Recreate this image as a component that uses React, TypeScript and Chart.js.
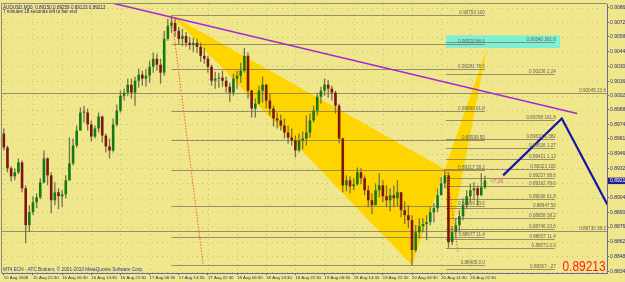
import React, { useEffect, useRef } from 'react';
import { Chart, registerables } from 'chart.js';
Chart.register(...registerables);

const SYMBOL_TITLE = 'AUDUSD,M30  0.89150 0.89259 0.89133 0.89213';
const TIMER_TEXT = '7 minutes 18 seconds left to bar end';
const COPYRIGHT = 'MT4 ECN - ATC Brokers, \u00a9 2001-2010 MetaQuotes Software Corp.';
const TIMER_TAG = '<7:18';

const X_LABELS = ['15 Aug 2008', '15 Aug 22:30', '16 Aug 06:30', '16 Aug 14:30', '16 Aug 22:30', '17 Aug 06:30', '17 Aug 14:30', '17 Aug 22:30', '18 Aug 06:30', '18 Aug 14:30', '18 Aug 22:30', '19 Aug 06:30', '19 Aug 14:30', '19 Aug 22:30', '20 Aug 06:30', '20 Aug 14:30', '20 Aug 22:30'];
const Y_TICKS = [0.90862, 0.90725, 0.90589, 0.90442, 0.90305, 0.90162, 0.90025, 0.89889, 0.89749, 0.89612, 0.89469, 0.89329, 0.89189, 0.89049, 0.88909, 0.88769, 0.88629, 0.88489, 0.88342];
const Y_MIN = 0.8833;
const Y_MAX = 0.909;
const X_MIN = -0.5;
const X_MAX = 165.5;
const LABEL_EVERY = 8;

const FIRST_OPEN = 0.89662;
const CLOSE = [
  0.89529, 0.8933, 0.89254, 0.89292, 0.89387, 0.89139, 0.88787, 0.88911, 0.89006, 0.89053,
  0.89196, 0.89425, 0.89263, 0.89025, 0.89101, 0.89063, 0.89082, 0.89215, 0.89377, 0.89548,
  0.89691, 0.89863, 0.89863, 0.89749, 0.89634, 0.89711, 0.89825, 0.89643, 0.89539, 0.89501,
  0.89749, 0.89882, 0.90024, 0.90053, 0.90129, 0.90053, 0.90167, 0.90225, 0.90187, 0.90215,
  0.90301, 0.90377, 0.9032, 0.90244, 0.90567, 0.90691, 0.9072, 0.90643, 0.90567, 0.90595,
  0.90529, 0.9051, 0.90529, 0.90491, 0.90405, 0.90377, 0.90301, 0.90167, 0.90187, 0.90196,
  0.90167, 0.9011, 0.90053, 0.90187, 0.90215, 0.90263, 0.90405, 0.90072, 0.89901, 0.89948,
  0.90072, 0.90129, 0.89977, 0.89901, 0.89806, 0.89787, 0.89739, 0.89672, 0.89624, 0.89596,
  0.89501, 0.89596, 0.89615, 0.89672, 0.89787, 0.89882, 0.90015, 0.90072, 0.90129, 0.90091,
  0.90053, 0.89929, 0.89615, 0.89167, 0.89215, 0.89158, 0.89177, 0.89292, 0.89235, 0.8912,
  0.89025, 0.88977, 0.8912, 0.89167, 0.89063, 0.89025, 0.89073, 0.89044, 0.89101, 0.8893,
  0.88882, 0.88835, 0.88549, 0.8872, 0.88778, 0.88797, 0.88816, 0.88911, 0.88949, 0.89073,
  0.89186, 0.89263, 0.88625, 0.8872, 0.88787, 0.88873, 0.88977, 0.89063, 0.8912, 0.89139,
  0.89073, 0.8915, 0.89213,
];
const HIGH = [
  0.89711, 0.89548, 0.89349, 0.8933, 0.89425, 0.89406, 0.89167, 0.88977, 0.89063, 0.89091,
  0.89235, 0.89501, 0.89434, 0.89292, 0.89196, 0.89139, 0.8912, 0.89263, 0.89624, 0.89615,
  0.89739, 0.8991, 0.89929, 0.89901, 0.89787, 0.89739, 0.89863, 0.89834, 0.89662, 0.89615,
  0.89806, 0.89939, 0.90072, 0.90091, 0.90187, 0.90187, 0.90206, 0.90282, 0.90263, 0.90282,
  0.90358, 0.90434, 0.90424, 0.90377, 0.90643, 0.90758, 0.90793, 0.90767, 0.90682, 0.90663,
  0.90633, 0.90586, 0.90576, 0.90567, 0.90529, 0.90481, 0.90405, 0.9032, 0.90253, 0.90244,
  0.90263, 0.90206, 0.90148, 0.90234, 0.90263, 0.90339, 0.90481, 0.90434, 0.9008, 0.89996,
  0.90119, 0.90206, 0.90138, 0.90043, 0.89929, 0.89863, 0.89844, 0.89806, 0.89739, 0.89711,
  0.89643, 0.89662, 0.89681, 0.89834, 0.89853, 0.89929, 0.90053, 0.9011, 0.90187, 0.90177,
  0.90119, 0.90072, 0.89948, 0.89624, 0.89263, 0.89254, 0.89235, 0.89339, 0.8933, 0.89263,
  0.89167, 0.89091, 0.89186, 0.89282, 0.89215, 0.89167, 0.89139, 0.89167, 0.89215, 0.89101,
  0.89015, 0.88977, 0.88882, 0.88787, 0.88854, 0.88854, 0.88882, 0.88958, 0.88996, 0.89139,
  0.89244, 0.89323, 0.89292, 0.88778, 0.88854, 0.8893, 0.89044, 0.8912, 0.89186, 0.89196,
  0.89167, 0.89282, 0.89259,
];
const LOW = [
  0.89501, 0.89292, 0.89205, 0.89215, 0.89273, 0.89101, 0.88615, 0.8872, 0.88882, 0.88949,
  0.89034, 0.89186, 0.89167, 0.88901, 0.88977, 0.88939, 0.88958, 0.89044, 0.89215, 0.89358,
  0.89529, 0.89691, 0.89768, 0.89691, 0.89586, 0.89615, 0.89672, 0.89577, 0.89482, 0.89425,
  0.89482, 0.8973, 0.89863, 0.89977, 0.90024, 0.89996, 0.89929, 0.901, 0.90119, 0.9011,
  0.90148, 0.90244, 0.90263, 0.90138, 0.90215, 0.90548, 0.90624, 0.90586, 0.9051, 0.905,
  0.90491, 0.90462, 0.90443, 0.90434, 0.90348, 0.90329, 0.90244, 0.90119, 0.90091, 0.901,
  0.9011, 0.90053, 0.89967, 0.90024, 0.90091, 0.90148, 0.90244, 0.89996, 0.89815, 0.89815,
  0.89939, 0.89958, 0.89901, 0.89834, 0.8973, 0.89711, 0.89691, 0.89615, 0.89567, 0.89548,
  0.89434, 0.89482, 0.8951, 0.89548, 0.89624, 0.89768, 0.89834, 0.89948, 0.90024, 0.90005,
  0.89977, 0.89853, 0.89567, 0.89101, 0.8911, 0.89092, 0.8912, 0.89167, 0.89177, 0.89073,
  0.88958, 0.88892, 0.88977, 0.89053, 0.89006, 0.88958, 0.8892, 0.88958, 0.88968, 0.88863,
  0.88797, 0.88759, 0.88405, 0.8853, 0.88663, 0.8872, 0.88644, 0.88787, 0.88816, 0.88911,
  0.89073, 0.89139, 0.88571, 0.88597, 0.88672, 0.8872, 0.88835, 0.88939, 0.89006, 0.89025,
  0.88977, 0.89063, 0.89133,
];
const LAST_PRICE = 0.89213;

// pattern / drawing objects: [bar slot, price]
const PATTERN_XAB = [[46, 0.90793], [112, 0.88405], [121, 0.89323]];
const PATTERN_BCD = [[121, 0.89323], [122, 0.88571], [132.5, 0.9047]];
const TARGET_ZONE = [121.3, 152.6, 0.906, 0.9048];
const TRENDLINE = [[30.2, 0.90905], [157.3, 0.89853]];
const PROJECTION = [[137, 0.89263], [153.1, 0.89806], [165.6, 0.88985]];
const TIME_LINES = [
  [[46, 0.90793], [54.7, 0.8841]],
  [[121.6, 0.8929], [124.6, 0.8853]],
];

const FIB1_RANGE = [46, 132];
const FIB1_PRICES = [0.90793, 0.9052, 0.90281, 0.8988, 0.89599, 0.89317, 0.88969, 0.88677, 0.88405];
const FIB1_RATIOS = ['100', '88.6', '78.6', '61.8', '50', '38.2', '23.6', '11.4', '0.0'];
const FIB2_RANGE = [121.3, 151.2];
const FIB2_PRICES = [0.9054, 0.90236, 0.89788, 0.8961, 0.89526, 0.89421, 0.89323, 0.89237, 0.89162, 0.89036, 0.88947, 0.88858, 0.88746, 0.88657, 0.88571, 0.88367];
const FIB2_RATIOS = ['261.8', '2.24', '161.8', '1.382', '1.27', '1.13', '100', '88.6', '78.6', '61.8', '50', '38.2', '23.6', '11.4', '0.0', '-.27'];
const FIB3_PRICES = [0.90045, 0.8873];
const FIB3_RATIOS = ['23.6', '38.2'];

const FONT = '"Liberation Sans", Arial, sans-serif';
const BG = '#F0E68C';

const overlayPlugin = {
  id: 'mt4overlay',
  beforeDatasetsDraw(chart: any) {
    const { ctx, chartArea: a, scales } = chart;
    const X = (v: number) => scales.x.getPixelForValue(v);
    const Y = (v: number) => scales.y.getPixelForValue(v);
    ctx.save();
    ctx.beginPath();
    ctx.rect(a.left, a.top, a.right - a.left, a.bottom - a.top);
    ctx.clip();
    // dotted grid
    ctx.strokeStyle = 'rgba(110,165,110,0.45)';
    ctx.lineWidth = 1;
    ctx.setLineDash([1, 4]);
    Y_TICKS.forEach((v) => {
      const py = Math.round(Y(v)) + 0.5;
      ctx.beginPath(); ctx.moveTo(a.left, py); ctx.lineTo(a.right, py); ctx.stroke();
    });
    X_LABELS.forEach((_, i) => {
      const px = Math.round(X(i * LABEL_EVERY)) + 0.5;
      ctx.beginPath(); ctx.moveTo(px, a.top); ctx.lineTo(px, a.bottom); ctx.stroke();
    });
    ctx.setLineDash([]);
    // harmonic pattern triangles
    ctx.fillStyle = '#FFD500';
    [PATTERN_XAB, PATTERN_BCD].forEach((t) => {
      ctx.beginPath();
      t.forEach(([k, p], j) => (j ? ctx.lineTo(X(k), Y(p)) : ctx.moveTo(X(k), Y(p))));
      ctx.closePath();
      ctx.fill();
    });
    // target zone
    ctx.fillStyle = '#7CF0D4';
    const [zx0, zx1, zt, zb] = TARGET_ZONE;
    ctx.fillRect(X(zx0), Y(zt), X(zx1) - X(zx0), Y(zb) - Y(zt));
    // fib lines
    ctx.strokeStyle = 'rgba(125,122,100,0.8)';
    ctx.lineWidth = 1;
    const hline = (x0: number, x1: number, p: number) => {
      const py = Math.round(Y(p)) + 0.5;
      ctx.beginPath(); ctx.moveTo(x0, py); ctx.lineTo(x1, py); ctx.stroke();
    };
    FIB1_PRICES.forEach((p) => hline(X(FIB1_RANGE[0]), X(FIB1_RANGE[1]), p));
    FIB2_PRICES.forEach((p) => hline(X(FIB2_RANGE[0]), X(FIB2_RANGE[1]), p));
    FIB3_PRICES.forEach((p) => hline(a.left, a.right, p));
    ctx.restore();
  },
  afterDatasetsDraw(chart: any) {
    const { ctx, chartArea: a, scales } = chart;
    const X = (v: number) => scales.x.getPixelForValue(v);
    const Y = (v: number) => scales.y.getPixelForValue(v);
    ctx.save();
    ctx.beginPath();
    ctx.rect(a.left, a.top, a.right - a.left, a.bottom - a.top);
    ctx.clip();
    const path = (pts: number[][]) => {
      ctx.beginPath();
      pts.forEach(([k, p], j) => (j ? ctx.lineTo(X(k), Y(p)) : ctx.moveTo(X(k), Y(p))));
      ctx.stroke();
    };
    // time (dotted) lines
    ctx.strokeStyle = '#FF5A2A';
    ctx.lineWidth = 1;
    ctx.setLineDash([1.5, 1.5]);
    TIME_LINES.forEach((l) => path(l));
    ctx.setLineDash([]);
    // trend line
    ctx.strokeStyle = '#A52AD0';
    ctx.lineWidth = 1.5;
    path(TRENDLINE);
    // projection
    ctx.strokeStyle = '#1414AA';
    ctx.lineWidth = 2.2;
    ctx.lineJoin = 'miter';
    path(PROJECTION);
    // fib labels
    ctx.font = `4.6px ${FONT}`;
    ctx.fillStyle = '#66644F';
    ctx.textAlign = 'right';
    ctx.textBaseline = 'alphabetic';
    FIB1_PRICES.forEach((p, i) => ctx.fillText(`${p.toFixed(5)} ${FIB1_RATIOS[i]}`, X(FIB1_RANGE[1]), Math.round(Y(p)) - 1));
    FIB2_PRICES.forEach((p, i) => ctx.fillText(`${p.toFixed(5)} ${FIB2_RATIOS[i]}`, X(FIB2_RANGE[1]) + 1, Math.round(Y(p)) - 1));
    FIB3_PRICES.forEach((p, i) => ctx.fillText(`${p.toFixed(5)} ${FIB3_RATIOS[i]}`, a.right - 1, Math.round(Y(p)) - 1));
    // bar timer tag
    ctx.textAlign = 'left';
    ctx.fillStyle = '#E8408C';
    ctx.font = `5px ${FONT}`;
    ctx.fillText(TIMER_TAG, X(CLOSE.length + 0.5), Y(LAST_PRICE) + 2);
    ctx.restore();
  },
  afterDraw(chart: any) {
    const { ctx, chartArea: a, scales, width } = chart;
    const Y = (v: number) => scales.y.getPixelForValue(v);
    ctx.save();
    // frame (left/top)
    ctx.strokeStyle = '#8E8C7C';
    ctx.lineWidth = 1;
    ctx.beginPath();
    ctx.moveTo(a.left - 0.5, a.bottom); ctx.lineTo(a.left - 0.5, a.top - 0.5); ctx.lineTo(a.right, a.top - 0.5);
    ctx.stroke();
    // header texts
    ctx.textAlign = 'left';
    ctx.textBaseline = 'alphabetic';
    ctx.fillStyle = '#1E1E6E';
    ctx.font = `4.6px ${FONT}`;
    ctx.fillText(SYMBOL_TITLE, a.left + 1, a.top + 4.5);
    ctx.fillText(TIMER_TEXT, a.left + 1, a.top + 9);
    ctx.fillStyle = '#2A36A0';
    ctx.font = `4.7px ${FONT}`;
    ctx.fillText(COPYRIGHT, a.left + 1, a.bottom - 2.5);
    // big price
    ctx.fillStyle = '#FF1A1A';
    ctx.font = `15px ${FONT}`;
    const txt = LAST_PRICE.toFixed(5);
    const w = ctx.measureText(txt).width;
    ctx.translate(a.right - 44.5, a.bottom - 2);
    ctx.scale(43 / w, 1);
    ctx.fillText(txt, 0, 0);
    ctx.setTransform(1, 0, 0, 1, 0, 0);
    // current price box on axis
    const py = Y(LAST_PRICE);
    ctx.fillStyle = '#20208E';
    ctx.fillRect(a.right + 1, py - 3, width - a.right - 1, 6.5);
    ctx.fillStyle = '#FFFFFF';
    ctx.font = `5px ${FONT}`;
    ctx.textBaseline = 'middle';
    ctx.fillText(txt, a.right + 3, py + 0.3);
    ctx.restore();
  },
};

export default function App() {
  const ref = useRef<HTMLCanvasElement | null>(null);
  useEffect(() => {
    document.body.style.margin = '0';
    const canvas = ref.current;
    if (!canvas) return;
    const opens = CLOSE.map((_, i) => (i === 0 ? FIRST_OPEN : CLOSE[i - 1]));
    const chart = new Chart(canvas, {
      type: 'bar',
      data: {
        datasets: [
          {
            label: 'body',
            data: CLOSE.map((c, i) => ({ x: i, y: [opens[i], c] })) as any,
            backgroundColor: CLOSE.map((c, i) => (c >= opens[i] ? '#137A13' : '#7E1414')),
            borderWidth: 0,
            maxBarThickness: 2.6,
            minBarLength: 1,
            grouped: false,
          } as any,
          {
            label: 'wick',
            data: CLOSE.map((_, i) => ({ x: i, y: [LOW[i], HIGH[i]] })) as any,
            backgroundColor: '#75734C',
            borderWidth: 0,
            maxBarThickness: 1.3,
            grouped: false,
          } as any,
        ],
      },
      options: {
        animation: false,
        responsive: false,
        devicePixelRatio: 1,
        layout: { padding: { left: 2, top: 3, right: 0, bottom: 0 } },
        plugins: { legend: { display: false }, tooltip: { enabled: false } },
        scales: {
          x: {
            type: 'linear',
            min: X_MIN,
            max: X_MAX,
            offset: false,
            afterBuildTicks: (s: any) => {
              s.ticks = X_LABELS.map((_, i) => ({ value: i * LABEL_EVERY }));
            },
            afterFit: (s: any) => {
              s.height = 9;
            },
            ticks: {
              autoSkip: false,
              maxRotation: 0,
              align: 'start',
              padding: 0.5,
              color: '#2B2B7A',
              font: { size: 4.3, family: FONT },
              callback: (v: any) => X_LABELS[Math.round(v / LABEL_EVERY)] ?? '',
            },
            grid: { drawOnChartArea: false, offset: false, tickLength: 2, tickColor: '#5A5A9A' },
            border: { color: '#6A6A9A' },
          },
          y: {
            type: 'linear',
            position: 'right',
            min: Y_MIN,
            max: Y_MAX,
            afterBuildTicks: (s: any) => {
              s.ticks = Y_TICKS.map((v) => ({ value: v }));
            },
            afterFit: (s: any) => {
              s.width = 18;
            },
            ticks: {
              autoSkip: false,
              padding: 1,
              color: '#2B2B7A',
              font: { size: 5, family: FONT },
              callback: (v: any) => Number(v).toFixed(5),
            },
            grid: { drawOnChartArea: false, tickLength: 2, tickColor: '#5A5A9A' },
            border: { color: '#6A6A9A' },
          },
        },
      } as any,
      plugins: [overlayPlugin],
    });
    return () => chart.destroy();
  }, []);
  return (
    <div style={{ width: 625, height: 282, background: BG, overflow: 'hidden' }}>
      <canvas ref={ref} width={625} height={282} style={{ display: 'block' }} />
    </div>
  );
}
